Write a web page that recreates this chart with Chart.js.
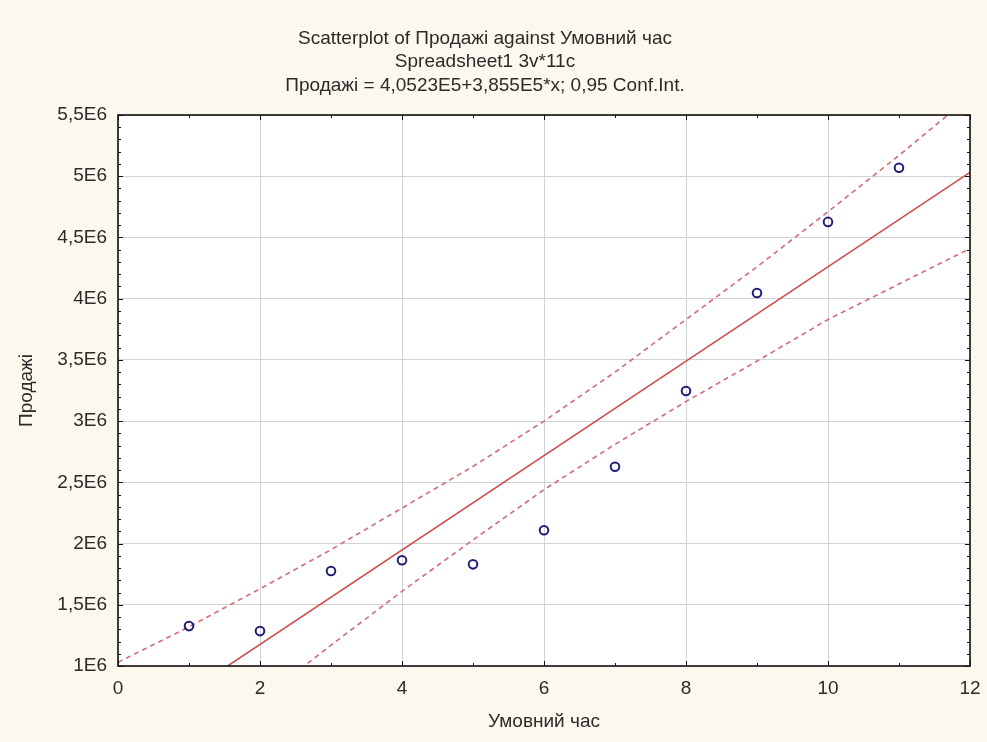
<!DOCTYPE html>
<html>
<head>
<meta charset="utf-8">
<script src="https://cdn.jsdelivr.net/npm/chart.js@4.4.1/dist/chart.umd.min.js"></script>
<style>
  body { margin: 0; background: #fcf8ee; }
  canvas { display: block; }
</style>
</head>
<body>
<canvas id="myChart" width="987" height="742"></canvas>
<script>
// values
const hours = [1, 2, 3, 4, 5, 6, 7, 8, 9, 10, 11];
const sales = [1326000, 1285000, 1776000, 1864000, 1830000, 2109000, 2627000, 3246000, 4046000, 4627000, 5069000];

// regression line from the title: 4,0523E5 + 3,855E5*x
const fitX = [0, 12];
const fitY = [405230, 5031230];

// 0,95 confidence band, read at whole hours
const bandX = [0, 1, 2, 3, 4, 5, 6, 7, 8, 9, 10, 11, 12];
const upperY = [1030000, 1320000, 1630000, 1950000, 2290000, 2630000, 3000000, 3400000, 3830000, 4260000, 4710000, 5170000, 5650000];
const lowerY = [-220000, 260000, 720000, 1170000, 1610000, 2030000, 2440000, 2810000, 3160000, 3490000, 3830000, 4120000, 4410000];

const titleLines = [
  "Scatterplot of Продажі against Умовний час",
  "Spreadsheet1 3v*11c",
  "Продажі = 4,0523E5+3,855E5*x; 0,95 Conf.Int."
];

const FONT = "'Liberation Sans', Arial, sans-serif";
const TEXT = "#2b2b2b";

const toXY = (xs, ys) => xs.map((x, i) => ({ x: x, y: ys[i] }));

const frame = {
  id: "frame",
  beforeDraw(chart) {
    const { ctx, chartArea: a } = chart;
    ctx.save();
    ctx.fillStyle = "#fcf8ee";
    ctx.fillRect(0, 0, chart.width, chart.height);
    ctx.fillStyle = "#ffffff";
    ctx.fillRect(a.left, a.top, a.right - a.left, a.bottom - a.top);
    ctx.restore();
  },
  afterDraw(chart) {
    const { ctx, chartArea: a, scales } = chart;
    ctx.save();
    ctx.strokeStyle = "#111";
    ctx.lineWidth = 1;
    // small inward tick marks on the frame
    const x = scales.x, y = scales.y;
    ctx.beginPath();
    for (let v = x.min; v <= x.max; v += 1) {
      const px = Math.round(x.getPixelForValue(v)) + 0.5;
      const len = v % 2 === 0 ? 5 : 3;
      ctx.moveTo(px, a.bottom); ctx.lineTo(px, a.bottom - len);
      ctx.moveTo(px, a.top); ctx.lineTo(px, a.top + len);
    }
    for (let v = y.min; v <= y.max + 1; v += 100000) {
      const py = Math.round(y.getPixelForValue(v)) + 0.5;
      const len = Math.round(v / 100000) % 5 === 0 ? 5 : 3;
      ctx.moveTo(a.left, py); ctx.lineTo(a.left + len, py);
      ctx.moveTo(a.right, py); ctx.lineTo(a.right - len, py);
    }
    ctx.stroke();
    ctx.lineWidth = 1.6;
    ctx.strokeRect(a.left, a.top, a.right - a.left, a.bottom - a.top);
    ctx.restore();
  }
};

const ctx = document.getElementById("myChart").getContext("2d");
const chart = new Chart(ctx, {
  type: "scatter",
  data: {
    datasets: [
      {
        label: "Продажі",
        data: toXY(hours, sales),
        pointStyle: "circle",
        pointRadius: 4.3,
        pointBorderWidth: 2,
        pointBorderColor: "#1f1f7a",
        pointBackgroundColor: "rgba(255,255,255,0)",
        showLine: false,
        order: 0
      },
      {
        label: "fit",
        data: toXY(fitX, fitY),
        showLine: true,
        borderColor: "#cf4b4b",
        borderWidth: 1.6,
        pointRadius: 0,
        clip: 0,
        order: 1
      },
      {
        label: "upper",
        data: toXY(bandX, upperY),
        showLine: true,
        borderColor: "#d0737c",
        borderWidth: 1.7,
        borderDash: [5, 4],
        pointRadius: 0,
        clip: 0,
        order: 2
      },
      {
        label: "lower",
        data: toXY(bandX, lowerY),
        showLine: true,
        borderColor: "#d0737c",
        borderWidth: 1.7,
        borderDash: [5, 4],
        pointRadius: 0,
        clip: 0,
        order: 2
      }
    ]
  },
  options: {
    responsive: false,
    animation: false,
    layout: { padding: { left: 0, right: 17, top: 0, bottom: 0 } },
    plugins: {
      legend: { display: false },
      tooltip: { enabled: false },
      title: {
        display: true,
        text: titleLines,
        color: TEXT,
        font: { family: FONT, size: 19, weight: "normal", lineHeight: "23.5px" },
        padding: { top: 27, bottom: 17.5 }
      }
    },
    scales: {
      x: {
        type: "linear",
        min: 0,
        max: 12,
        ticks: {
          stepSize: 2,
          padding: 11,
          color: TEXT,
          font: { family: FONT, size: 19 }
        },
        grid: { color: "#d2d2d2", lineWidth: 1, drawTicks: false },
        border: { display: false },
        title: {
          display: true,
          text: "Умовний час",
          color: TEXT,
          font: { family: FONT, size: 19 },
          padding: { top: 9, bottom: 9 }
        },
        afterFit(scale) {
          scale.height = 76;
          scale.paddingRight = 0;
          scale.paddingLeft = 0;
        }
      },
      y: {
        type: "linear",
        min: 1000000,
        max: 5500000,
        ticks: {
          stepSize: 500000,
          padding: 11,
          color: TEXT,
          font: { family: FONT, size: 19 },
          callback: (v) => String(v / 1e6).replace(".", ",") + "E6"
        },
        grid: { color: "#d2d2d2", lineWidth: 1, drawTicks: false },
        border: { display: false },
        title: {
          display: true,
          text: "Продажі",
          color: TEXT,
          font: { family: FONT, size: 19 },
          padding: { top: 15.5, bottom: 15.5 }
        },
        afterFit(scale) { scale.width = 118; }
      }
    }
  },
  plugins: [frame]
});
</script>
</body>
</html>
